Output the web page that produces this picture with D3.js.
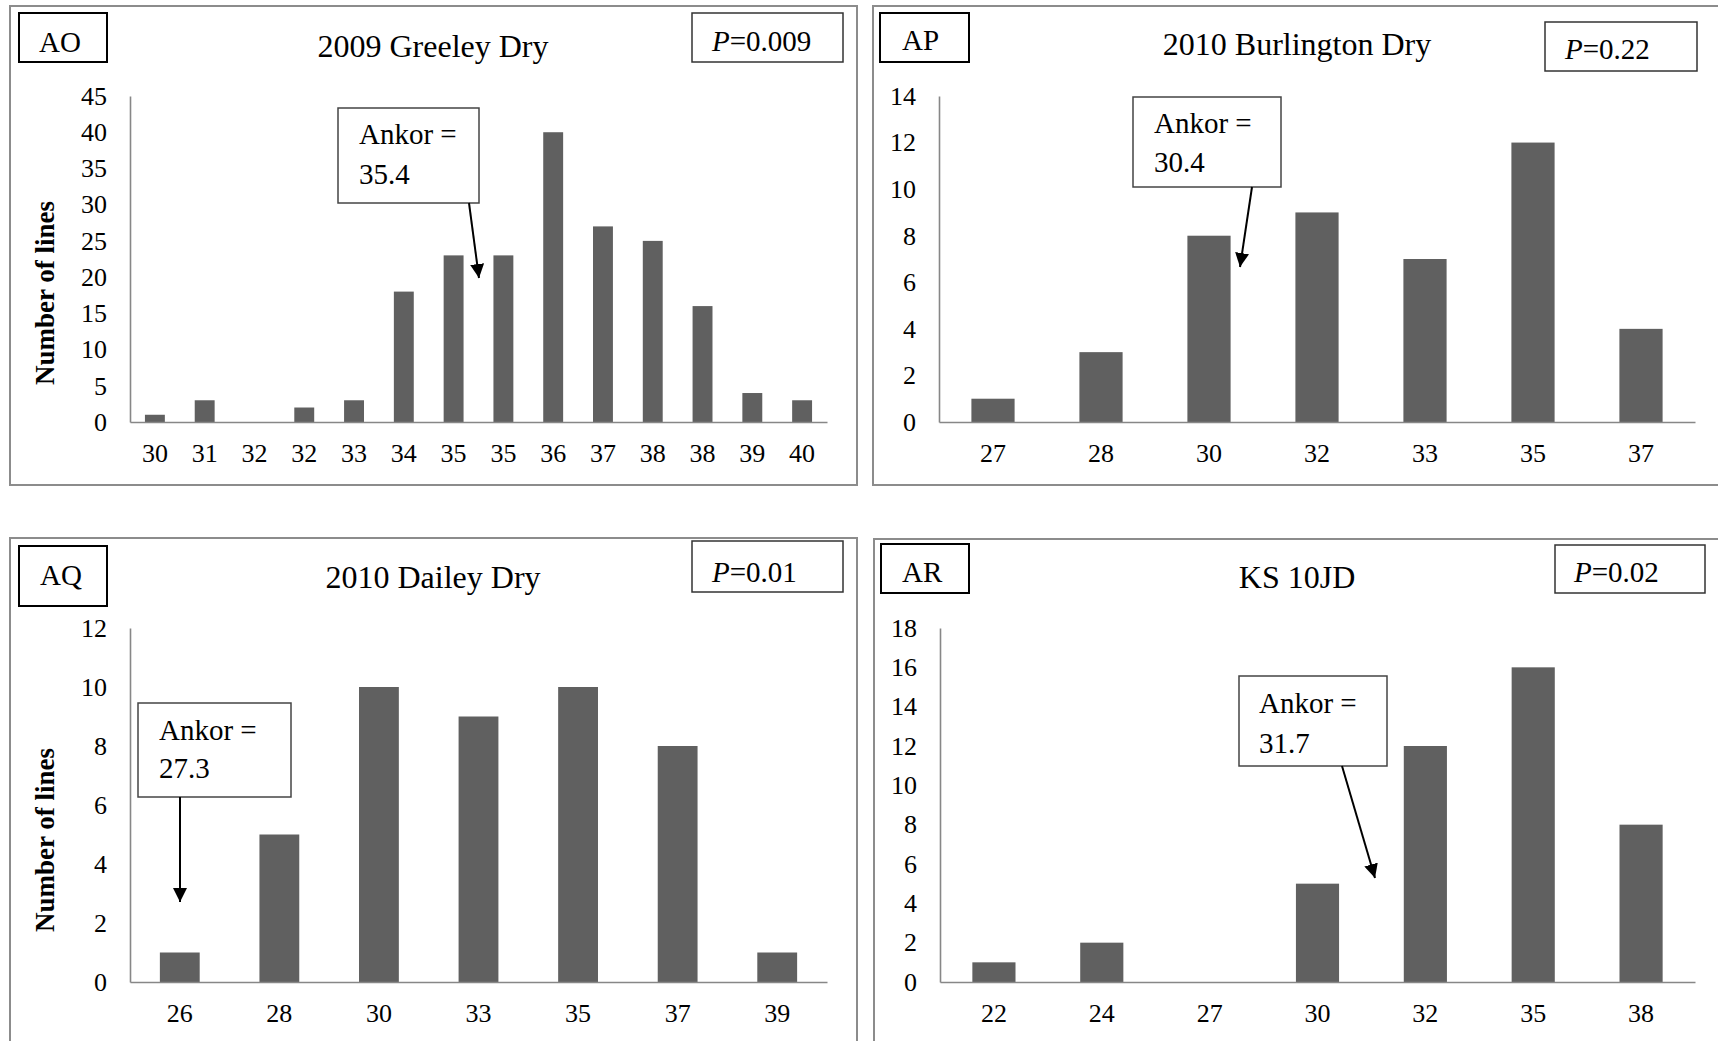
<!DOCTYPE html>
<html>
<head>
<meta charset="utf-8">
<script src="https://cdn.jsdelivr.net/npm/d3@7/dist/d3.min.js"></script>
<style>
  html, body { margin: 0; padding: 0; background: #ffffff; }
  svg { display: block; }
  text { font-family: "Liberation Serif", "Times New Roman", Times, serif; fill: #000; }
</style>
</head>
<body>
<svg id="chart" width="1718" height="1041"></svg>
<script>
// ---- Data: lines per days-to-heading class, four environments ----
const aoCategories = ["30", "31", "32", "32", "33", "34", "35", "35", "36", "37", "38", "38", "39", "40"];
const aoValues     = [1, 3, 0, 2, 3, 18, 23, 23, 40, 27, 25, 16, 4, 3];
const aoTicks      = [0, 5, 10, 15, 20, 25, 30, 35, 40, 45];

const apCategories = ["27", "28", "30", "32", "33", "35", "37"];
const apValues     = [1, 3, 8, 9, 7, 12, 4];
const apTicks      = [0, 2, 4, 6, 8, 10, 12, 14];

const aqCategories = ["26", "28", "30", "33", "35", "37", "39"];
const aqValues     = [1, 5, 10, 9, 10, 8, 1];
const aqTicks      = [0, 2, 4, 6, 8, 10, 12];

const arCategories = ["22", "24", "27", "30", "32", "35", "38"];
const arValues     = [1, 2, 0, 5, 12, 16, 8];
const arTicks      = [0, 2, 4, 6, 8, 10, 12, 14, 16, 18];

const panelTags    = ["AO", "AP", "AQ", "AR"];
const panelTitles  = ["2009 Greeley Dry", "2010 Burlington Dry", "2010 Dailey Dry", "KS 10JD"];
const pValues      = ["0.009", "0.22", "0.01", "0.02"];
const ankorValues  = ["35.4", "30.4", "27.3", "31.7"];
const yAxisTitle   = "Number of lines";

// ---- Layout of each panel (pixels) ----
const layouts = [
  { frame: [10, 6, 857, 485], plot: [130, 96, 827, 422],
    tag: [19, 13, 107, 62, 39, 52], title: [433, 57], pbox: [692, 13, 843, 62, 712, 51],
    note: [338, 108, 479, 203, 359, 144, 184], arrow: [469, 203, 479, 278], ylab: [45, 293] },
  { frame: [873, 6, 1722, 485], plot: [939, 96, 1695, 422],
    tag: [880, 13, 969, 62, 902, 50], title: [1297, 55], pbox: [1545, 22, 1697, 71, 1565, 59],
    note: [1133, 97, 1281, 187, 1154, 133, 172], arrow: [1252, 187, 1240, 267], ylab: null },
  { frame: [10, 538, 857, 1046], plot: [130, 628, 827, 982],
    tag: [19, 546, 107, 606, 40, 585], title: [433, 588], pbox: [692, 541, 843, 592, 712, 582],
    note: [138, 703, 291, 797, 159, 740, 778], arrow: [180, 797, 180, 902], ylab: [45, 840] },
  { frame: [874, 539, 1722, 1046], plot: [940, 628, 1695, 982],
    tag: [881, 544, 969, 593, 902, 582], title: [1297, 588], pbox: [1555, 545, 1705, 593, 1574, 582],
    note: [1239, 676, 1387, 766, 1259, 713, 753], arrow: [1342, 766, 1375, 878], ylab: null }
];

const series = [
  { cats: aoCategories, vals: aoValues, ticks: aoTicks },
  { cats: apCategories, vals: apValues, ticks: apTicks },
  { cats: aqCategories, vals: aqValues, ticks: aqTicks },
  { cats: arCategories, vals: arValues, ticks: arTicks }
];

const BAR = "#606060";
const AXIS = "#878787";
const FRAME = "#8c8c8c";

const svg = d3.select("#chart");

svg.append("defs").append("marker")
  .attr("id", "arrowhead")
  .attr("viewBox", "0 0 10 10")
  .attr("refX", 10).attr("refY", 5)
  .attr("markerUnits", "userSpaceOnUse")
  .attr("markerWidth", 14).attr("markerHeight", 14)
  .attr("orient", "auto")
  .append("path")
  .attr("d", "M0,0 L10,5 L0,10 Z")
  .attr("fill", "#000");

series.forEach((s, i) => {
  const L = layouts[i];
  const g = svg.append("g");

  // outer frame
  g.append("rect")
    .attr("x", L.frame[0]).attr("y", L.frame[1])
    .attr("width", L.frame[2] - L.frame[0]).attr("height", L.frame[3] - L.frame[1])
    .attr("fill", "none").attr("stroke", FRAME).attr("stroke-width", 2);

  const [x0, yTop, x1, yBot] = L.plot;
  const x = d3.scaleBand()
    .domain(d3.range(s.cats.length))
    .range([x0, x1])
    .paddingInner(0.6)
    .paddingOuter(0.3);
  const y = d3.scaleLinear()
    .domain([0, d3.max(s.ticks)])
    .range([yBot, yTop]);

  // bars
  g.append("g").selectAll("rect")
    .data(s.vals)
    .join("rect")
    .attr("x", (d, k) => x(k))
    .attr("width", x.bandwidth())
    .attr("y", d => y(d))
    .attr("height", d => y(0) - y(d))
    .attr("fill", BAR);

  // y axis
  const ya = g.append("g")
    .attr("transform", `translate(${x0},0)`)
    .call(d3.axisLeft(y).tickValues(s.ticks).tickSize(0).tickSizeOuter(0).tickPadding(23));
  ya.select(".domain").attr("stroke", AXIS).attr("stroke-width", 1.6);
  ya.selectAll("text").style("font-size", "26px").attr("font-family", null).attr("fill", "#000");

  // x axis
  const xa = g.append("g")
    .attr("transform", `translate(0,${yBot})`)
    .call(d3.axisBottom(x).tickFormat(k => s.cats[k]).tickSize(0).tickSizeOuter(0).tickPadding(22));
  xa.select(".domain").attr("stroke", AXIS).attr("stroke-width", 1.6);
  xa.selectAll("text").style("font-size", "26px").attr("font-family", null).attr("fill", "#000");

  // panel tag
  const t = L.tag;
  g.append("rect")
    .attr("x", t[0]).attr("y", t[1]).attr("width", t[2] - t[0]).attr("height", t[3] - t[1])
    .attr("fill", "#fff").attr("stroke", "#000").attr("stroke-width", 2);
  g.append("text").attr("x", t[4]).attr("y", t[5])
    .style("font-size", "29px").text(panelTags[i]);

  // title
  g.append("text").attr("x", L.title[0]).attr("y", L.title[1])
    .attr("text-anchor", "middle").style("font-size", "32px").text(panelTitles[i]);

  // P value box
  const p = L.pbox;
  g.append("rect")
    .attr("x", p[0]).attr("y", p[1]).attr("width", p[2] - p[0]).attr("height", p[3] - p[1])
    .attr("fill", "#fff").attr("stroke", "#333").attr("stroke-width", 1.5);
  const pt = g.append("text").attr("x", p[4]).attr("y", p[5]).style("font-size", "29px");
  pt.append("tspan").style("font-style", "italic").text("P");
  pt.append("tspan").text("=" + pValues[i]);

  // check-cultivar note with arrow
  const n = L.note;
  g.append("rect")
    .attr("x", n[0]).attr("y", n[1]).attr("width", n[2] - n[0]).attr("height", n[3] - n[1])
    .attr("fill", "#fff").attr("stroke", "#444").attr("stroke-width", 1.5);
  g.append("text").attr("x", n[4]).attr("y", n[5]).style("font-size", "29px").text("Ankor =");
  g.append("text").attr("x", n[4]).attr("y", n[6]).style("font-size", "29px").text(ankorValues[i]);
  const a = L.arrow;
  g.append("line")
    .attr("x1", a[0]).attr("y1", a[1]).attr("x2", a[2]).attr("y2", a[3])
    .attr("stroke", "#000").attr("stroke-width", 2)
    .attr("marker-end", "url(#arrowhead)");

  // y axis title
  if (L.ylab) {
    g.append("text")
      .attr("transform", `translate(${L.ylab[0]},${L.ylab[1]}) rotate(-90)`)
      .attr("text-anchor", "middle").attr("dy", "0.35em")
      .style("font-size", "27px").style("font-weight", "bold")
      .text(yAxisTitle);
  }
});
</script>
</body>
</html>
